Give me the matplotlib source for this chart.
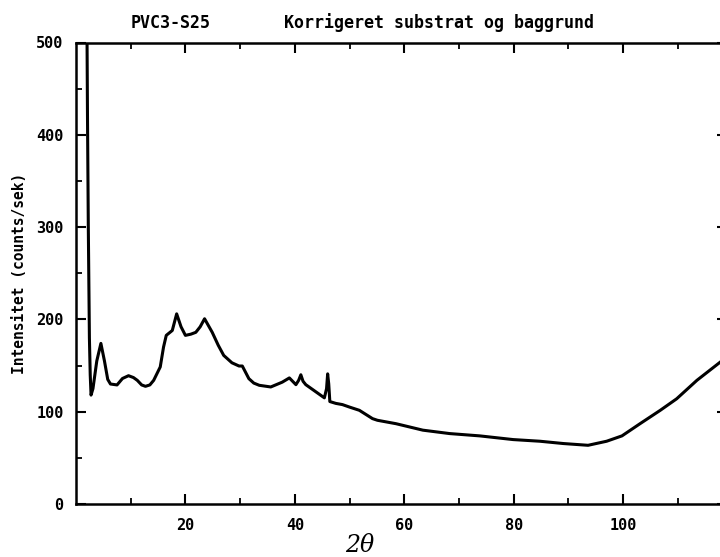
import numpy as np
import matplotlib
matplotlib.use("Agg")
import matplotlib.pyplot as plt

# 2theta (deg) and intensity (counts/sek)
two_theta = [2.0, 2.1, 2.25, 2.45, 2.6, 2.75, 3.1, 3.8, 4.55, 5.2, 5.8, 6.3,
             7.5, 8.5, 9.6, 10.5, 11.2, 12.0, 12.7, 13.5, 14.2, 15.4, 16.0,
             16.5, 17.6, 18.4, 19.2, 20.0, 21.0, 21.9, 22.7, 23.5, 24.9, 26.0,
             27.0, 28.5, 29.8, 30.4, 31.6, 32.5, 33.5, 35.6, 37.7, 39.0, 40.2,
             40.7, 41.1, 41.5, 42.0, 43.5, 45.4, 45.8, 46.0, 46.2, 46.4, 47.5,
             48.7, 50.0, 51.8, 54.2, 55.1, 58.5, 63.4, 68.3, 73.8, 79.9, 84.8,
             89.1, 93.6, 97.0, 99.8, 103.1, 106.8, 109.8, 113.5, 117.8, 118.5]
intensitet = [520, 420, 300, 180, 140, 118, 125, 155, 174, 155, 135, 130,
              129, 136, 139, 137, 134, 129, 127.5, 129, 134, 148.5, 170,
              182.7, 188, 206, 192, 182.7, 184, 186, 192, 200.7, 186, 172,
              161, 153, 149.5, 149.5, 135.8, 131, 128.6, 126.8, 132, 136.6, 129.3,
              134, 140, 133, 129.3, 123, 115, 125, 141, 130, 111, 109,
              107.7, 105, 101.5, 92.5, 90.7, 87, 80, 76.3, 73.8, 69.8, 68,
              65.5, 63.6, 68, 73.8, 87, 101.5, 114, 134, 153.9, 157]

x_major = [20, 40, 60, 80, 100]
x_minor = [10, 30, 50, 70, 90, 110]
y_major = [0, 100, 200, 300, 400, 500]
y_minor = [50, 150, 250, 350, 450]

mono = "DejaVu Sans Mono"

fig = plt.figure(figsize=(7.2, 5.57), dpi=100)
# right spine sits just past the edge of the scan
ax = fig.add_axes([76/720, (557-504)/557, (727-76)/720, (504-42.5)/557])

ax.plot(two_theta, intensitet, color="black", lw=2.2)
ax.set_xlim(0, 119)
ax.set_ylim(0, 500)

ax.set_xticks(x_major)
ax.set_xticks(x_minor, minor=True)
ax.set_yticks(y_major)
ax.set_yticks(y_minor, minor=True)
ax.tick_params(which="both", direction="in", top=True, right=True, color="black")
ax.tick_params(which="major", length=7, width=1.5)
ax.tick_params(which="minor", length=4, width=1.3)
ax.tick_params(axis="x", pad=10)
ax.tick_params(axis="y", pad=9)
for lab in ax.get_xticklabels() + ax.get_yticklabels():
    lab.set_fontfamily(mono)
    lab.set_fontweight("bold")
    lab.set_fontsize(11)
for s in ax.spines.values():
    s.set_linewidth(1.8)

ax.set_ylabel("Intensitet (counts/sek)", fontfamily=mono, fontweight="bold",
              fontsize=10.5)
ax.yaxis.set_label_coords(-0.075, 0.5)

fig.text(171/720, 1 - 22.5/557, "PVC3-S25", fontfamily=mono, fontweight="bold",
         fontsize=12, ha="center", va="center")
fig.text(284/720, 1 - 22.5/557, "Korrigeret substrat og baggrund", fontfamily=mono,
         fontweight="bold", fontsize=12, ha="left", va="center")
fig.text(360/720, 1 - 545/557, "2θ", fontfamily="DejaVu Serif", fontstyle="italic",
         fontsize=17, ha="center", va="center")

fig.savefig("out.png", dpi=100)
